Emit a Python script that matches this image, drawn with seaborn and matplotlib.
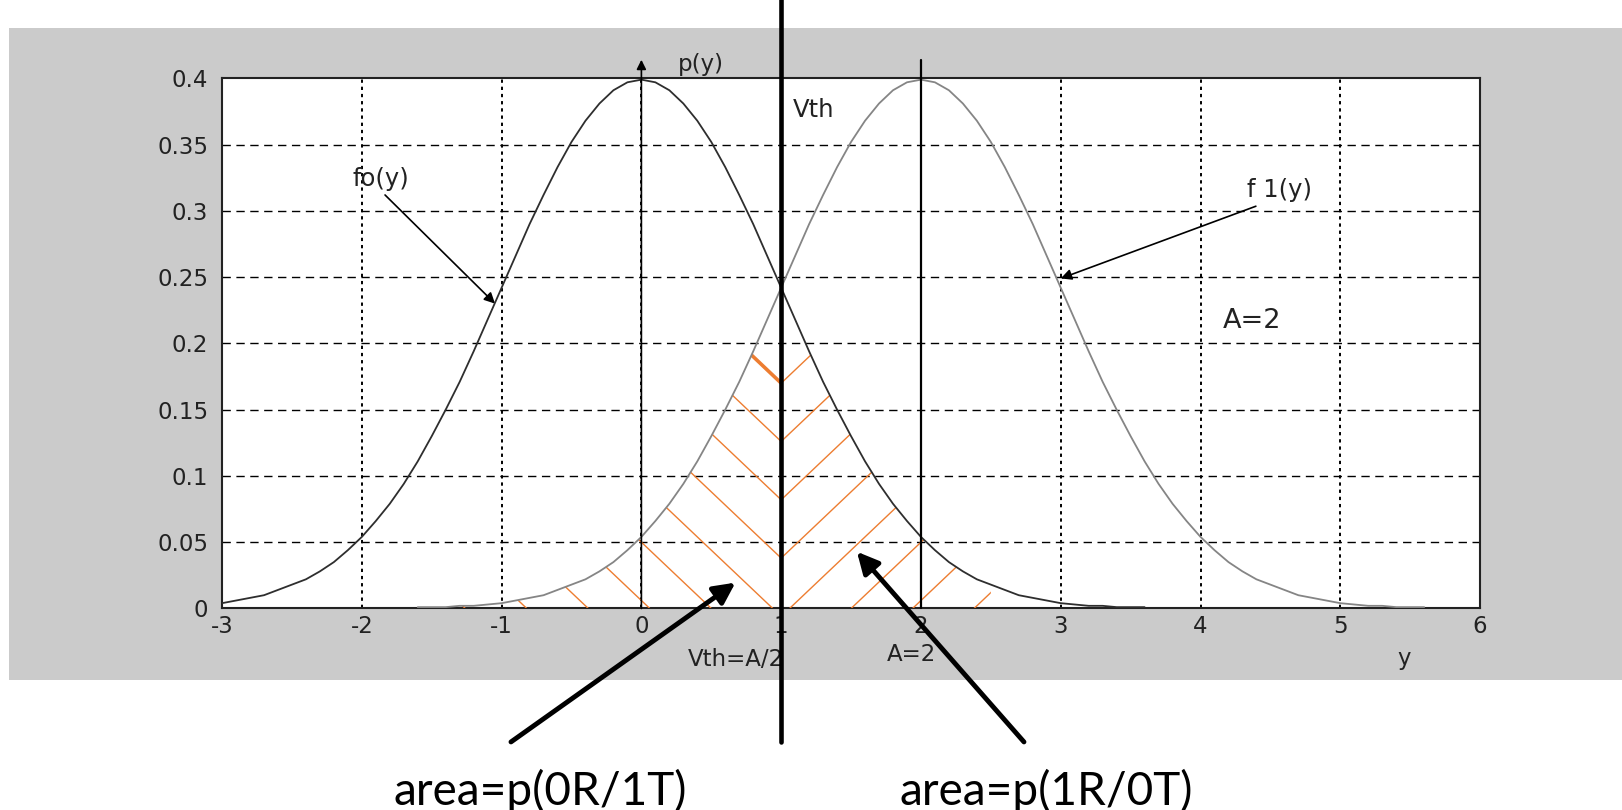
import matplotlib
matplotlib.use("Agg")
import matplotlib.pyplot as plt
import numpy as np
import pandas as pd
import seaborn as sns
from matplotlib.patches import Rectangle

# curve values (step 0.1)
f0_x = [-3.0, -2.9, -2.8, -2.7, -2.6, -2.5, -2.4, -2.3, -2.2, -2.1, -2.0, -1.9,
        -1.8, -1.7, -1.6, -1.5, -1.4, -1.3, -1.2, -1.1, -1.0, -0.9, -0.8, -0.7,
        -0.6, -0.5, -0.4, -0.3, -0.2, -0.1, 0.0, 0.1, 0.2, 0.3, 0.4, 0.5, 0.6,
        0.7, 0.8, 0.9, 1.0, 1.1, 1.2, 1.3, 1.4, 1.5, 1.6, 1.7, 1.8, 1.9, 2.0,
        2.1, 2.2, 2.3, 2.4, 2.5, 2.6, 2.7, 2.8, 2.9, 3.0, 3.1, 3.2, 3.3, 3.4,
        3.5, 3.6]
f0_y = [0.004, 0.006, 0.008, 0.010, 0.014, 0.018, 0.022, 0.028, 0.035, 0.044,
        0.054, 0.066, 0.079, 0.094, 0.111, 0.130, 0.150, 0.171, 0.194, 0.218,
        0.242, 0.266, 0.290, 0.312, 0.333, 0.352, 0.368, 0.381, 0.391, 0.397,
        0.399, 0.397, 0.391, 0.381, 0.368, 0.352, 0.333, 0.312, 0.290, 0.266,
        0.242, 0.218, 0.194, 0.171, 0.150, 0.130, 0.111, 0.094, 0.079, 0.066,
        0.054, 0.044, 0.035, 0.028, 0.022, 0.018, 0.014, 0.010, 0.008, 0.006,
        0.004, 0.003, 0.002, 0.002, 0.001, 0.001, 0.001]
f1_x = [-1.6, -1.5, -1.4, -1.3, -1.2, -1.1, -1.0, -0.9, -0.8, -0.7, -0.6, -0.5,
        -0.4, -0.3, -0.2, -0.1, 0.0, 0.1, 0.2, 0.3, 0.4, 0.5, 0.6, 0.7, 0.8, 0.9,
        1.0, 1.1, 1.2, 1.3, 1.4, 1.5, 1.6, 1.7, 1.8, 1.9, 2.0, 2.1, 2.2, 2.3, 2.4,
        2.5, 2.6, 2.7, 2.8, 2.9, 3.0, 3.1, 3.2, 3.3, 3.4, 3.5, 3.6, 3.7, 3.8, 3.9,
        4.0, 4.1, 4.2, 4.3, 4.4, 4.5, 4.6, 4.7, 4.8, 4.9, 5.0, 5.1, 5.2, 5.3, 5.4,
        5.5, 5.6]
f1_y = [0.001, 0.001, 0.001, 0.002, 0.002, 0.003, 0.004, 0.006, 0.008, 0.010,
        0.014, 0.018, 0.022, 0.028, 0.035, 0.044, 0.054, 0.066, 0.079, 0.094,
        0.111, 0.130, 0.150, 0.171, 0.194, 0.218, 0.242, 0.266, 0.290, 0.312,
        0.333, 0.352, 0.368, 0.381, 0.391, 0.397, 0.399, 0.397, 0.391, 0.381,
        0.368, 0.352, 0.333, 0.312, 0.290, 0.266, 0.242, 0.218, 0.194, 0.171,
        0.150, 0.130, 0.111, 0.094, 0.079, 0.066, 0.054, 0.044, 0.035, 0.028,
        0.022, 0.018, 0.014, 0.010, 0.008, 0.006, 0.004, 0.003, 0.002, 0.002,
        0.001, 0.001, 0.001]

x_ticks = [-3, -2, -1, 0, 1, 2, 3, 4, 5, 6]
y_ticks = [0, 0.05, 0.1, 0.15, 0.2, 0.25, 0.3, 0.35, 0.4]
y_tick_labels = ["0", "0.05", "0.1", "0.15", "0.2", "0.25", "0.3", "0.35", "0.4"]

v_th = 1.0
amp = 2.0

sns.set_theme(style="white")
plt.rcParams["font.family"] = ["DejaVu Sans"]

fig = plt.figure(figsize=(16.22, 8.10), dpi=100, facecolor="white")
fig.patches.append(Rectangle((0.0055, 0.1605), 0.9945, 0.805, transform=fig.transFigure,
                             facecolor="#cbcbcb", edgecolor="none", zorder=-10))
ax = fig.add_axes([0.1369, 0.2488, 0.7756, 0.6545])
ax.set_zorder(1)
ax.set_facecolor("white")

df0 = pd.DataFrame({"y": f0_x, "p": f0_y})
df1 = pd.DataFrame({"y": f1_x, "p": f1_y})
sns.lineplot(data=df0, x="y", y="p", ax=ax, color="#2e2e2e", lw=1.3, zorder=4)
sns.lineplot(data=df1, x="y", y="p", ax=ax, color="#858585", lw=1.3, zorder=4)

ax.set_xlim(-3, 6)
ax.set_ylim(0, 0.4)
ax.set_xticks(x_ticks)
ax.set_xticklabels([str(t) for t in x_ticks])
ax.set_yticks(y_ticks)
ax.set_yticklabels(y_tick_labels)
ax.set_xlabel("")
ax.set_ylabel("")
ax.tick_params(direction="in", length=4, width=1, colors="#222222", labelsize=16.5)
ax.tick_params(axis="x", pad=5)
ax.tick_params(axis="y", pad=10)
for s in ax.spines.values():
    s.set_color("#222222")
    s.set_linewidth(1.5)

# grid
for t in x_ticks[1:-1]:
    ax.axvline(t, color="black", lw=1.4, ls=(0, (1.7, 2.0)), zorder=1)
for t in y_ticks[1:-1]:
    ax.axhline(t, color="black", lw=1.0, ls=(0, (6, 4)), zorder=1)

# hatching of the two error areas
x0 = np.array(f0_x)
y0 = np.array(f0_y)
x1 = np.array(f1_x)
y1 = np.array(f1_y)
left = ax.fill_between(x1, 0, y1, where=x1 <= v_th + 1e-9, facecolor="none",
                       edgecolor="none")
right = ax.fill_between(x0, 0, y0, where=(x0 >= v_th - 1e-9) & (x0 <= 2.5),
                        facecolor="none", edgecolor="none")
slope = 0.1
spacing = 0.044
orange = "#ED7D31"
for k in range(-7, 4):
    c = 0.038 + k * spacing
    xl = np.array([-1.6, v_th])
    ln, = ax.plot(xl, c + slope * (v_th - xl), color=orange, lw=2.6 if k == 3 else 1.0,
                  zorder=3)
    ln.set_clip_path(left.get_paths()[0], ax.transData)
    xr = np.array([v_th, 2.6])
    ln, = ax.plot(xr, c + slope * (xr - v_th), color=orange, lw=1.0, zorder=3)
    ln.set_clip_path(right.get_paths()[0], ax.transData)

# p(y) axis arrow and A line
ax.annotate("", xy=(0, 0.414), xytext=(0, 0), annotation_clip=False,
            arrowprops=dict(arrowstyle="-|>", color="black", lw=1.2,
                            mutation_scale=14, shrinkA=0, shrinkB=0), zorder=5)
ax.plot([amp, amp], [0, 0.414], color="black", lw=1.6, clip_on=False, zorder=5)

# threshold line across the whole slide
ax.axvline(v_th, ymin=-0.252, ymax=1.15, color="black", lw=3.3, clip_on=False,
           zorder=6)

txt = dict(color="#222222", fontsize=16.5)
ax.text(0.262, 0.4107, "p(y)", va="center", ha="left", **txt)
ax.text(1.084, 0.376, "Vth", va="center", ha="left", fontsize=17.5, color="#222222")
ax.text(-2.07, 0.324, "fo(y)", va="center", ha="left", fontsize=17.5, color="#222222")
ax.text(4.33, 0.316, "f 1(y)", va="center", ha="left", fontsize=17.5, color="#222222")
ax.text(4.16, 0.217, "A=2", va="center", ha="left", fontsize=19.5, color="#222222")
ax.text(0.333, -0.0385, "Vth=A/2", va="center", ha="left", **txt)
ax.text(1.757, -0.035, "A=2", va="center", ha="left", **txt)
ax.text(5.41, -0.0375, "y", va="center", ha="left", **txt)

thin = dict(arrowstyle="-|>", color="black", lw=1.2, mutation_scale=16,
            shrinkA=0, shrinkB=0)
ax.annotate("", xy=(-1.047, 0.230), xytext=(-1.834, 0.312), arrowprops=thin)
ax.annotate("", xy=(3.0, 0.249), xytext=(4.396, 0.3035), arrowprops=thin)

thick = dict(arrowstyle="-|>", color="black", lw=3.5, mutation_scale=32,
             shrinkA=0, shrinkB=0)
ax.annotate("", xy=(0.673, 0.0195), xytext=(-0.933, -0.1007), arrowprops=thick,
            annotation_clip=False)
ax.annotate("", xy=(1.542, 0.0428), xytext=(2.737, -0.1007), arrowprops=thick,
            annotation_clip=False)

fig.text(540 / 1622, 0.024, "area=p(0R/1T)", ha="center", va="center",
         fontsize=33, family=["Lato", "DejaVu Sans"], color="black")
fig.text(1046 / 1622, 0.024, "area=p(1R/0T)", ha="center", va="center",
         fontsize=33, family=["Lato", "DejaVu Sans"], color="black")

fig.savefig("out.png", dpi=100, facecolor="white")
